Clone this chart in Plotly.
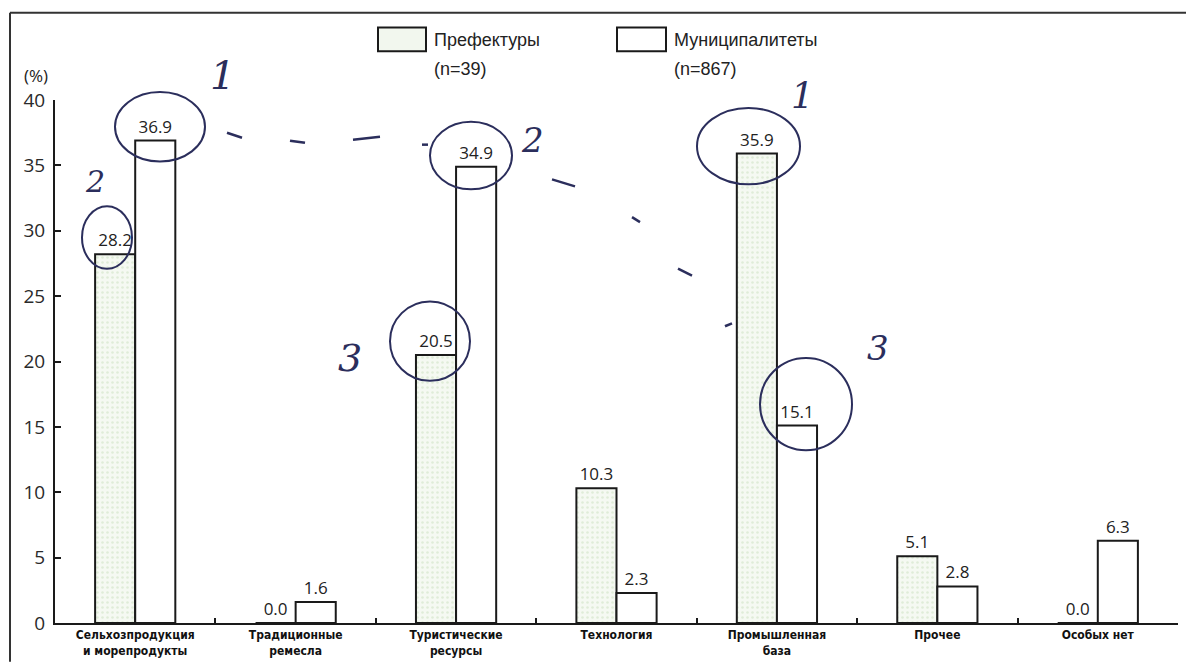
import plotly.graph_objects as go

# Data
categories = [
    "Сельхозпродукция<br>и морепродукты",
    "Традиционные<br>ремесла",
    "Туристические<br>ресурсы",
    "Технология",
    "Промышленная<br>база",
    "Прочее",
    "Особых нет",
]
prefectures = [28.2, 0.0, 20.5, 10.3, 35.9, 5.1, 0.0]
municipalities = [36.9, 1.6, 34.9, 2.3, 15.1, 2.8, 6.3]
series_names = ["Префектуры", "Муниципалитеты"]
series_n = ["(n=39)", "(n=867)"]
y_ticks = [0, 5, 10, 15, 20, 25, 30, 35, 40]

W, H = 1186, 666
L, R, T, B = 55, 1178, 100, 627  # plot area in pixels

INK = "#2b2e5c"
LINE = "#1a1a1a"
TXT = "#222222"


def px(x):
    return (x - L) / (R - L)


def py(y):
    return (B - y) / (B - T)


fig = go.Figure()

fig.add_trace(go.Bar(
    x=categories, y=prefectures, name=series_names[0],
    marker=dict(color="#f2f7ee", line=dict(color=LINE, width=2),
                pattern=dict(shape=".", fgcolor="#c9dfbd", bgcolor="#f5f9f2",
                             size=5, solidity=0.22)),
    text=[f"{v:.1f}" for v in prefectures], textposition="outside",
    textfont=dict(size=17, color=TXT, family="Open Sans"),
    cliponaxis=False, showlegend=False,
))
fig.add_trace(go.Bar(
    x=categories, y=municipalities, name=series_names[1],
    marker=dict(color="white", line=dict(color=LINE, width=2)),
    text=[f"{v:.1f}" for v in municipalities], textposition="outside",
    textfont=dict(size=17, color=TXT, family="Open Sans"),
    cliponaxis=False, showlegend=False,
))

shapes = []
annotations = []

# Outer frame (top and left edges)
shapes.append(dict(type="line", xref="paper", yref="paper",
                   x0=px(10), y0=py(12), x1=px(1186), y1=py(12),
                   line=dict(color="#333", width=2)))
shapes.append(dict(type="line", xref="paper", yref="paper",
                   x0=px(10), y0=py(12), x1=px(10), y1=py(666),
                   line=dict(color="#333", width=2)))

# Legend drawn by hand
legend_items = [(378, 426, "#f2f7ee"), (617, 666, "white")]
for (x0, x1, fill), name, n in zip(legend_items, series_names, series_n):
    shapes.append(dict(type="rect", xref="paper", yref="paper",
                       x0=px(x0), x1=px(x1), y0=py(27), y1=py(51),
                       fillcolor=fill, line=dict(color=LINE, width=2)))
    annotations.append(dict(xref="paper", yref="paper", x=px(x1 + 6), y=py(40),
                            text=name, showarrow=False, xanchor="left", yanchor="middle",
                            font=dict(size=18, color=TXT, family="Liberation Sans")))
    annotations.append(dict(xref="paper", yref="paper", x=px(x1 + 6), y=py(69),
                            text=n, showarrow=False, xanchor="left", yanchor="middle",
                            font=dict(size=18, color=TXT, family="Liberation Sans")))

# Unit label
annotations.append(dict(xref="paper", yref="paper", x=px(36), y=py(75),
                        text="(%)", showarrow=False, xanchor="center", yanchor="middle",
                        font=dict(size=17, color=TXT, family="Open Sans")))

# Pen marks: circles around values
circles = [(115, 92, 205, 162), (82, 207, 132, 270), (430, 122, 512, 190),
           (390, 303, 470, 383), (697, 108, 800, 185), (760, 360, 852, 453)]
for x0, y0, x1, y1 in circles:
    shapes.append(dict(type="circle", xref="paper", yref="paper",
                       x0=px(x0), x1=px(x1), y0=py(y1), y1=py(y0),
                       line=dict(color=INK, width=2)))

# Pen marks: dashed trail
dashes = [(227, 133, 242, 138), (290, 141, 305, 143), (353, 140, 380, 137),
          (422, 145, 428, 145), (552, 180, 575, 187), (632, 218, 640, 223),
          (678, 270, 692, 277), (725, 328, 732, 325)]
for x0, y0, x1, y1 in dashes:
    shapes.append(dict(type="line", xref="paper", yref="paper",
                       x0=px(x0), y0=py(y0), x1=px(x1), y1=py(y1),
                       line=dict(color=INK, width=2.5)))

# Pen marks: rank numbers
ranks = [("1", 222, 75, 40), ("2", 95, 182, 30), ("2", 532, 140, 34),
         ("1", 802, 95, 36), ("3", 350, 360, 38), ("3", 878, 350, 34)]
for t, x, y, s in ranks:
    annotations.append(dict(xref="paper", yref="paper", x=px(x), y=py(y),
                            text=t, showarrow=False, xanchor="center", yanchor="middle",
                            font=dict(size=s, color=INK, family="DejaVu Serif", style="italic")))

fig.update_layout(
    width=W, height=H,
    margin=dict(l=L, r=W - R, t=T, b=H - B, pad=0),
    paper_bgcolor="white", plot_bgcolor="white",
    barmode="group", bargap=0.5, bargroupgap=0,
    shapes=shapes, annotations=annotations,
    xaxis=dict(
        showline=True, linecolor=LINE, linewidth=2,
        ticks="inside", tickson="boundaries", ticklen=5, tickwidth=2, tickcolor=LINE,
        tickfont=dict(size=12, color="#111", family="DejaVu Sans Condensed", weight="bold"),
        showgrid=False, zeroline=False,
    ),
    yaxis=dict(
        range=[0, 40], tickvals=y_ticks, showline=True, linecolor=LINE, linewidth=2,
        ticks="inside", ticklen=6, tickwidth=2, tickcolor=LINE,
        tickfont=dict(size=19, color="#2a2a2a", family="Open Sans"),
        showgrid=False, zeroline=False, ticklabelstandoff=4,
    ),
    font=dict(family="Open Sans"),
)

fig.write_html("out.html", config={"displayModeBar": False, "staticPlot": True})
